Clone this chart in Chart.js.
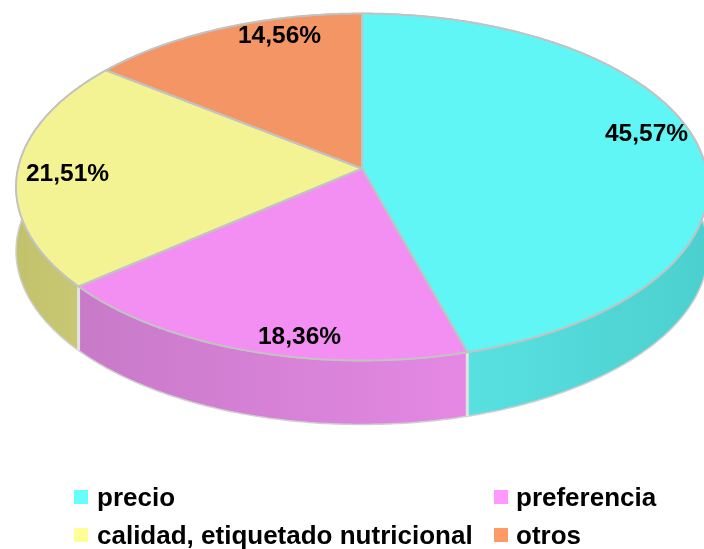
<!DOCTYPE html>
<html><head><meta charset="utf-8">
<style>html,body{margin:0;padding:0;background:#fff;overflow:hidden}canvas{display:block}</style>
<script src="https://cdn.jsdelivr.net/npm/chart.js@4"></script>
</head><body><canvas id="c" width="704" height="549"></canvas>
<script>
const categories = ['precio','preferencia','calidad, etiquetado nutricional','otros'];
const shares = [45.57,18.36,21.51,14.56];
const topColors = ['#60F6F6','#F38FF3','#F3F393','#F39564'];
const legendColors = ['#66FFFF','#FF99FF','#FFFF99','#FF9966'];
const wallColors = [['#5EE8E8','#4CCFCF'],['#C87AC8','#E488E4'],['#C2C26C','#CBCB78'],['#C2C26C','#C2C26C']];

// layout of the tilted disc
const CX=362, CY=168.5, RX=344, RY=171.5, TILT=0.1066, DEPTH=64;
const LABEL_AT=[[646.5,134.5],[299.5,337.5],[67.5,174.5],[279.5,36.5]];
const LEGEND_AT=[[74,97,506],[494,516,506],[74,97,544],[494,516,544]];
const LABEL_FONT='bold 24.5px "Liberation Sans", Arial, sans-serif';
const LEGEND_FONT='bold 26px "Liberation Sans", Arial, sans-serif';

function project(angle,r){
  const u=Math.cos(angle)*r, v=Math.sin(angle)*r, d=1-TILT*v;
  return [CX+RX*u/d, CY+RY*v/d];
}
function rimPoints(a0,a1){
  const n=Math.max(2,Math.ceil((a1-a0)/0.01)), pts=[];
  for(let i=0;i<=n;i++) pts.push(project(a0+(a1-a0)*i/n,1));
  return pts;
}
const disc3d={
  id:'disc3d',
  beforeDatasetDraw(chart){
    const ctx=chart.ctx, arcs=chart.getDatasetMeta(0).data;
    ctx.save();
    ctx.lineJoin='round';
    // walls, drawn first so the top faces cover their rear part
    arcs.forEach((arc,i)=>{
      const pts=rimPoints(arc.startAngle,arc.endAngle);
      const xs=pts.map(p=>p[0]);
      const g=ctx.createLinearGradient(Math.min(...xs),0,Math.max(...xs),0);
      g.addColorStop(0,wallColors[i][0]); g.addColorStop(1,wallColors[i][1]);
      ctx.beginPath();
      pts.forEach((p,k)=>k?ctx.lineTo(p[0],p[1]):ctx.moveTo(p[0],p[1]));
      pts.slice().reverse().forEach(p=>ctx.lineTo(p[0],p[1]+DEPTH));
      ctx.closePath();
      ctx.fillStyle=g; ctx.fill();
      ctx.strokeStyle='#CFCFCF'; ctx.lineWidth=1.5; ctx.stroke();
      // light seam at the start of each wall
      const s=pts[0];
      ctx.beginPath(); ctx.moveTo(s[0],s[1]); ctx.lineTo(s[0],s[1]+DEPTH);
      ctx.strokeStyle='#E2E2E2'; ctx.lineWidth=3; ctx.stroke();
    });
    // top faces
    arcs.forEach((arc,i)=>{
      const pts=rimPoints(arc.startAngle,arc.endAngle);
      ctx.beginPath(); ctx.moveTo(CX,CY);
      pts.forEach(p=>ctx.lineTo(p[0],p[1]));
      ctx.closePath();
      ctx.fillStyle=topColors[i]; ctx.fill();
      ctx.strokeStyle='#C2C2C2'; ctx.lineWidth=2; ctx.stroke();
    });
    // value labels
    ctx.font=LABEL_FONT; ctx.fillStyle='#000'; ctx.textAlign='center'; ctx.textBaseline='middle';
    shares.forEach((v,i)=>ctx.fillText(v.toFixed(2).replace('.',',')+'%',LABEL_AT[i][0],LABEL_AT[i][1]));
    // legend
    ctx.font=LEGEND_FONT; ctx.textAlign='left'; ctx.textBaseline='alphabetic';
    categories.forEach((name,i)=>{
      const [sx,tx,by]=LEGEND_AT[i];
      ctx.fillStyle=legendColors[i]; ctx.fillRect(sx,by-16,14,14);
      ctx.fillStyle='#000'; ctx.fillText(name,tx,by);
    });
    ctx.restore();
    return false;
  }
};
new Chart(document.getElementById('c'),{
  type:'pie',
  data:{labels:categories,datasets:[{data:shares,backgroundColor:topColors}]},
  options:{responsive:false,animation:false,events:[],
    plugins:{legend:{display:false},tooltip:{enabled:false}}},
  plugins:[disc3d]
});
</script></body></html>
